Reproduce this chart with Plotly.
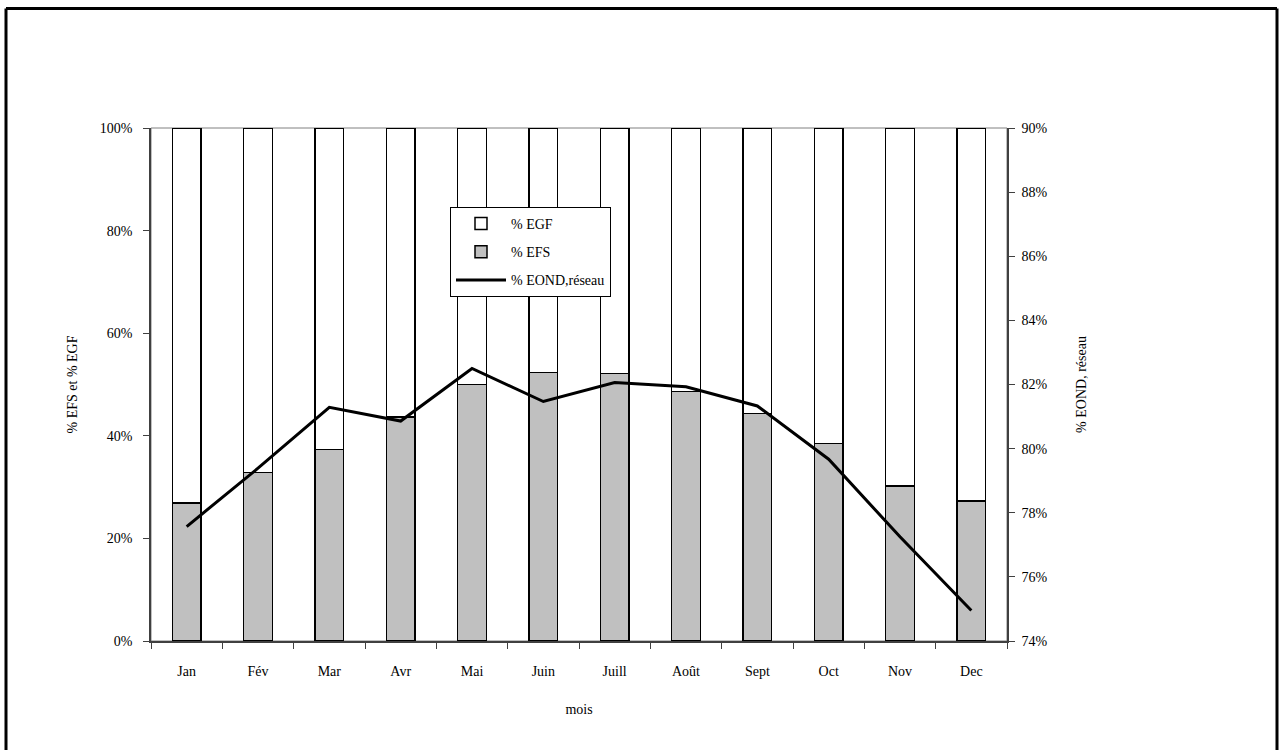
import plotly.graph_objects as go

months = ["Jan", "Fév", "Mar", "Avr", "Mai", "Juin", "Juill", "Août", "Sept", "Oct", "Nov", "Dec"]
efs = [26.9, 32.8, 37.3, 43.7, 50.0, 52.3, 52.1, 48.6, 44.3, 38.5, 30.2, 27.3]
egf = [100 - v for v in efs]
eond = [77.57, 79.39, 81.29, 80.86, 82.50, 81.47, 82.06, 81.93, 81.33, 79.67, 77.25, 74.95]

FONT = "Liberation Serif, Times New Roman, serif"

fig = go.Figure()
fig.add_trace(go.Bar(x=months, y=efs, name="% EFS", marker=dict(color="#C0C0C0", line=dict(color="black", width=1.5)),
                     width=0.4, legendrank=2, legendgroup="b"))
fig.add_trace(go.Bar(x=months, y=egf, name="% EGF", marker=dict(color="white", line=dict(color="black", width=1.5)),
                     width=0.4, legendrank=1, legendgroup="a"))
fig.add_trace(go.Scatter(x=months, y=eond, name="% EOND,réseau", mode="lines", yaxis="y2",
                         line=dict(color="black", width=3), legendrank=3, legendgroup="c"))

PW, PH, PL, PB = 856.0, 513.0, 151.0, 641.0
def px(x):
    return (x - PL) / PW
def py(y):
    return (PB - y) / PH

# outer frame (left, top, right edges)
for (x0, y0, x1, y1) in [(6, 8.5, 6, 760), (6, 8.5, 1277, 8.5), (1277, 8.5, 1277, 760)]:
    fig.add_shape(type="line", xref="paper", yref="paper", x0=px(x0), y0=py(y0), x1=px(x1), y1=py(y1),
                  line=dict(color="black", width=3), layer="above")
# plot area border
fig.add_shape(type="rect", xref="paper", yref="paper", x0=0, x1=1, y0=0, y1=1,
              line=dict(color="#808080", width=1), layer="below")

fig.update_layout(
    width=1282, height=750,
    barmode="stack", bargap=0.6,
    paper_bgcolor="white", plot_bgcolor="white",
    margin=dict(l=151, r=275, t=128, b=109),
    font=dict(family=FONT, size=14, color="black"),
    xaxis=dict(title=dict(text="mois", font=dict(size=14), standoff=27),
               showline=True, linecolor="#404040", linewidth=1.5,
               ticks="outside", ticklen=6, tickcolor="#404040", tickson="boundaries",
               ticklabelstandoff=16,
               showgrid=False, tickfont=dict(size=14)),
    yaxis=dict(title=dict(text="% EFS et % EGF", font=dict(size=14), standoff=19),
               range=[0, 100], dtick=20, ticksuffix="%",
               showline=True, linecolor="#404040", linewidth=1.5,
               ticks="outside", ticklen=6, tickcolor="#404040", ticklabelstandoff=8,
               showgrid=False, zeroline=False, tickfont=dict(size=14)),
    yaxis2=dict(title=dict(text="% EOND, réseau", font=dict(size=14), standoff=30),
                overlaying="y", side="right", range=[74, 90], dtick=2, ticksuffix="%",
                showline=True, linecolor="#404040", linewidth=1.5,
                ticks="outside", ticklen=6, tickcolor="#404040", ticklabelstandoff=4,
                showgrid=False, zeroline=False, tickfont=dict(size=14)),
    legend=dict(x=px(450), y=py(207), xanchor="left", yanchor="top",
                bgcolor="white", bordercolor="black", borderwidth=1,
                font=dict(size=14), traceorder="grouped", tracegroupgap=7,
                itemwidth=50),
    showlegend=True,
)

fig.write_html("out.html", config={"displayModeBar": False},
               post_script="document.body.style.margin='0px';")
